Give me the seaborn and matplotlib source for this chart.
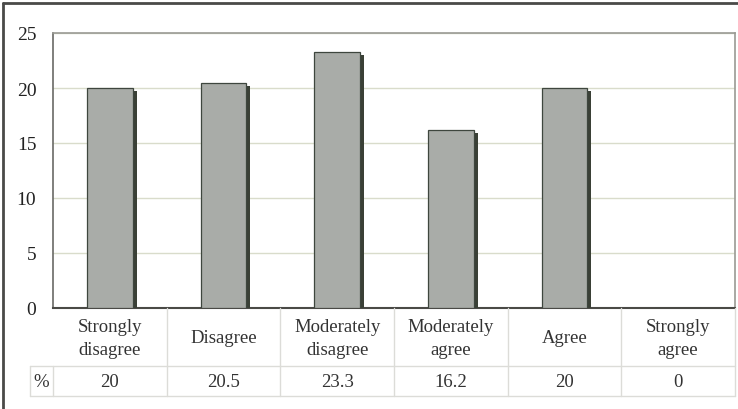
import matplotlib
matplotlib.use("Agg")
import matplotlib.pyplot as plt
import matplotlib.patheffects as pe
from matplotlib.lines import Line2D
import seaborn as sns
import pandas as pd

categories = ["Strongly\ndisagree", "Disagree", "Moderately\ndisagree",
              "Moderately\nagree", "Agree", "Strongly\nagree"]
values = [20, 20.5, 23.3, 16.2, 20, 0]
value_labels = ["20", "20.5", "23.3", "16.2", "20", "0"]
yticks = [0, 5, 10, 15, 20, 25]

sns.set_theme(style="white")
plt.rcParams["font.serif"] = ["Liberation Serif", "DejaVu Serif"]
plt.rcParams["font.family"] = "serif"

W, H = 738, 410
fig = plt.figure(figsize=(W / 100, H / 100), dpi=100)
L, R, T, B = 53, 735, 34, 309
ax = fig.add_axes([L / W, 1 - B / H, (R - L) / W, (B - T) / H])

df = pd.DataFrame({"cat": categories, "val": values})
sns.barplot(data=df, x="cat", y="val", ax=ax, width=0.4,
            color="#a9aca8", saturation=1, edgecolor="#3e463e", linewidth=0.9)
for p in ax.patches:
    p.set_path_effects([pe.SimplePatchShadow(offset=(3, -2.2), shadow_rgbFace="#3a4036", alpha=1.0),
                        pe.Normal()])
    p.set_zorder(3)

ax.set_ylim(0, 25)
ax.set_yticks(yticks)
ax.set_yticklabels([str(t) for t in yticks], fontsize=14, color="#222222")
ax.tick_params(axis="y", length=0, pad=12)
ax.set_xticks([])
ax.set_xlabel("")
ax.set_ylabel("")
ax.yaxis.grid(True, color="#d9dccb", linewidth=1)
ax.set_axisbelow(True)
for s in ["top", "right"]:
    ax.spines[s].set_color("#9a9a94")
    ax.spines[s].set_linewidth(1.2)
ax.spines["left"].set_color("#6a6a66")
ax.spines["left"].set_linewidth(1.2)
ax.spines["bottom"].set_color("#4a4a46")
ax.spines["bottom"].set_linewidth(1.5)

def fx(px):
    return px / W
def fy(py):
    return 1 - py / H

ncol = len(categories)
colw = (R - L) / ncol
line_kw = dict(color="#dcdcd8", linewidth=1, transform=fig.transFigure)
row1_top, row1_bot, row2_bot = B, 367, 397
tbl_left = 30
for i in range(1, ncol + 1):
    x = L + i * colw
    fig.add_artist(Line2D([fx(x), fx(x)], [fy(row1_top), fy(row2_bot)], **line_kw))
fig.add_artist(Line2D([fx(L), fx(L)], [fy(row1_bot), fy(row2_bot)], **line_kw))
fig.add_artist(Line2D([fx(tbl_left), fx(tbl_left)], [fy(row1_bot), fy(row2_bot)], **line_kw))
fig.add_artist(Line2D([fx(tbl_left), fx(R)], [fy(row1_bot), fy(row1_bot)], **line_kw))
fig.add_artist(Line2D([fx(tbl_left), fx(R)], [fy(row2_bot), fy(row2_bot)], **line_kw))

for i, (c, v) in enumerate(zip(categories, value_labels)):
    xc = L + (i + 0.5) * colw
    fig.text(fx(xc), fy((row1_top + row1_bot) / 2 + 1), c, ha="center", va="center",
             fontsize=13.5, color="#333333", linespacing=1.4)
    fig.text(fx(xc), fy((row1_bot + row2_bot) / 2 + 1), v, ha="center", va="center",
             fontsize=13.5, color="#333333")
fig.text(fx((tbl_left + L) / 2), fy((row1_bot + row2_bot) / 2 + 1), "%", ha="center",
         va="center", fontsize=13.5, color="#333333")

frame_kw = dict(color="#4a4a48", linewidth=2, transform=fig.transFigure)
fig.add_artist(Line2D([fx(3), fx(W)], [fy(4), fy(4)], **frame_kw))
fig.add_artist(Line2D([fx(3), fx(3)], [fy(4), fy(H)], **frame_kw))

fig.savefig("out.png", dpi=100)
